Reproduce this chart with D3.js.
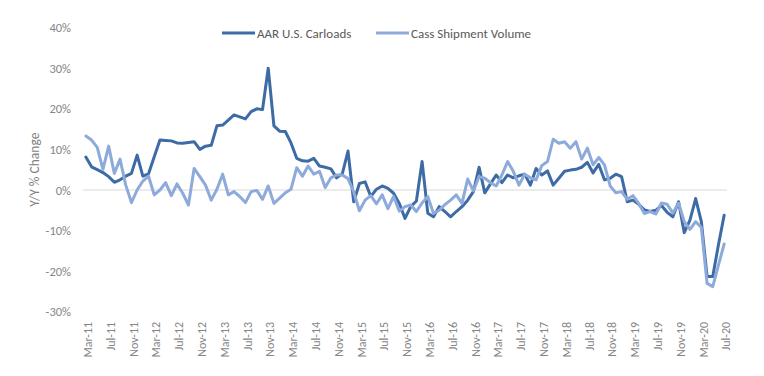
<!DOCTYPE html>
<html>
<head>
<meta charset="utf-8">
<script src="https://cdn.jsdelivr.net/npm/d3@7"></script>
<style>
  body { margin: 0; background: #fff; }
  #main text { font-family: Carlito, Calibri, Lato, sans-serif; }
</style>
</head>
<body>
<div id="main"></div>
<script>
// monthly Y/Y % change, Mar-11 .. Jul-20
const startMonth = new Date(2011, 2, 1);
const endMonth = new Date(2020, 7, 1);

const carloads = [
    8.1, 5.7, 5.0, 4.3, 3.3, 1.9, 2.5, 3.4, 4.1, 8.6,
    3.4, 4.0, 8.2, 12.3, 12.2, 12.1, 11.6, 11.5, 11.7, 11.9,
    10.0, 10.8, 11.0, 15.8, 16.0, 17.2, 18.5, 18.0, 17.5, 19.3,
    20.0, 19.8, 30.0, 15.8, 14.5, 14.4, 11.6, 7.8, 7.2, 7.1,
    7.8, 5.9, 5.6, 5.2, 3.0, 4.0, 9.6, -2.9, 1.6, 2.0,
    -1.6, 0.2, 1.0, 0.4, -0.8, -3.3, -7.0, -4.1, -2.7, 7.0,
    -5.7, -6.6, -4.1, -5.3, -6.6, -5.3, -4.1, -2.5, -0.4, 5.6,
    -0.7, 1.5, 3.7, 1.8, 3.7, 3.0, 3.5, 3.9, 1.2, 5.3,
    3.7, 4.7, 1.2, 2.9, 4.6, 4.9, 5.1, 5.6, 6.8, 4.2,
    6.3, 2.5, 2.9, 3.9, 3.3, -2.9, -2.5, -3.5, -4.9, -5.3,
    -5.0, -3.8, -5.5, -6.6, -2.9, -10.5, -7.4, -2.1, -7.8, -21.3,
    -21.3, -13.5, -6.2
];

const cassVolume = [
    13.3, 12.3, 10.5, 5.1, 10.8, 4.1, 7.6, 1.2, -3.1, 0.0,
    2.2, 3.4, -1.2, 0.0, 1.8, -1.4, 1.5, -0.8, -3.7, 5.3,
    3.3, 1.2, -2.5, 0.2, 3.9, -1.2, -0.4, -1.6, -3.1, -0.4,
    -0.1, -2.3, 1.0, -3.3, -2.0, -0.7, 0.2, 5.5, 3.4, 5.9,
    3.9, 4.6, 0.6, 3.0, 3.7, 3.7, 2.8, -0.5, -5.1, -2.5,
    -1.4, -3.4, -1.2, -4.6, -1.6, -5.2, -4.1, -3.7, -5.3, -3.2,
    -1.6, -5.8, -5.0, -3.6, -2.5, -1.2, -3.3, 2.7, -0.2, 3.3,
    2.9, 1.8, 1.0, 3.7, 7.0, 4.6, 1.2, 3.9, 3.0, 2.5,
    6.0, 7.0, 12.5, 11.5, 11.9, 10.3, 11.9, 7.6, 10.3, 6.2,
    8.0, 6.2, 1.0, -0.7, -0.4, -2.3, -1.4, -3.3, -5.8, -5.3,
    -5.9, -3.2, -3.5, -5.7, -3.2, -7.8, -9.7, -7.8, -9.2, -23.0,
    -23.8, -18.5, -13.3
];

const seriesNames = ["AAR U.S. Carloads", "Cass Shipment Volume"];
const seriesColors = ["#3d6ba6", "#8eaadb"];
const yTicks = [-30, -20, -10, 0, 10, 20, 30, 40];

const fmtMonth = d3.timeFormat("%b-%y");
const months = d3.timeMonth.range(startMonth, endMonth).map(fmtMonth);
const tickMonths = months.filter((m, i) => i % 4 == 0);

ctx = {
    width: 764,
    height: 376,
    left: 83,
    right: 727,
    top: 27.6,
    bottom: 311.8,
    svg: null,
};

function drawChart() {
    let svg = ctx.svg;

    let x = d3.scalePoint()
        .domain(months)
        .range([ctx.left, ctx.right])
        .padding(0.5);

    let y = d3.scaleLinear()
        .domain([-30, 40])
        .range([ctx.bottom, ctx.top]);

    // y labels, no axis line
    let yAxis = svg.append("g")
        .attr("transform", "translate(" + ctx.left + ",0)")
        .call(d3.axisLeft(y).tickValues(yTicks).tickSize(0).tickPadding(12).tickFormat(d => d + "%"));
    yAxis.select(".domain").remove();
    yAxis.selectAll("text")
        .attr("fill", "#858585")
        .style("font-size", "12.5px");

    // zero line
    svg.append("line")
        .attr("x1", ctx.left)
        .attr("x2", ctx.right)
        .attr("y1", y(0))
        .attr("y2", y(0))
        .attr("stroke", "#d9d9d9")
        .attr("stroke-width", 1);

    // month labels at the bottom
    let xAxis = svg.append("g")
        .attr("transform", "translate(0," + ctx.bottom + ")")
        .call(d3.axisBottom(x).tickValues(tickMonths).tickSize(0));
    xAxis.select(".domain").remove();
    xAxis.selectAll("text")
        .attr("transform", "rotate(-90)")
        .attr("x", -10)
        .attr("y", 1.5)
        .attr("dy", "0.35em")
        .style("text-anchor", "end")
        .style("font-size", "12px")
        .attr("fill", "#858585");

    // y title
    svg.append("text")
        .attr("transform", "translate(34," + ((ctx.top + ctx.bottom) / 2) + ") rotate(-90)")
        .attr("text-anchor", "middle")
        .attr("dy", "0.35em")
        .attr("fill", "#7f7f7f")
        .style("font-size", "13.5px")
        .text("Y/Y % Change");

    let line = d3.line()
        .x((d, i) => x(months[i]))
        .y(d => y(d));

    [carloads, cassVolume].forEach((vals, k) => {
        svg.append("path")
            .datum(vals)
            .attr("d", line)
            .attr("fill", "none")
            .attr("stroke", seriesColors[k])
            .attr("stroke-width", 3)
            .attr("stroke-linejoin", "round")
            .attr("stroke-linecap", "round");
    });

    // legend
    let legendX = [222, 376];
    let legend = svg.append("g");
    seriesNames.forEach((name, k) => {
        legend.append("line")
            .attr("x1", legendX[k])
            .attr("x2", legendX[k] + 33)
            .attr("y1", 33)
            .attr("y2", 33)
            .attr("stroke", seriesColors[k])
            .attr("stroke-width", 3);
        legend.append("text")
            .attr("x", legendX[k] + 35)
            .attr("y", 33)
            .attr("dy", "0.35em")
            .attr("fill", "#595959")
            .style("font-size", "13px")
            .text(name);
    });
}

function createViz() {
    let svgEl = d3.select("#main").append("svg");
    svgEl.attr("width", ctx.width);
    svgEl.attr("height", ctx.height);
    ctx.svg = svgEl;
    drawChart();
}

createViz();
</script>
</body>
</html>
